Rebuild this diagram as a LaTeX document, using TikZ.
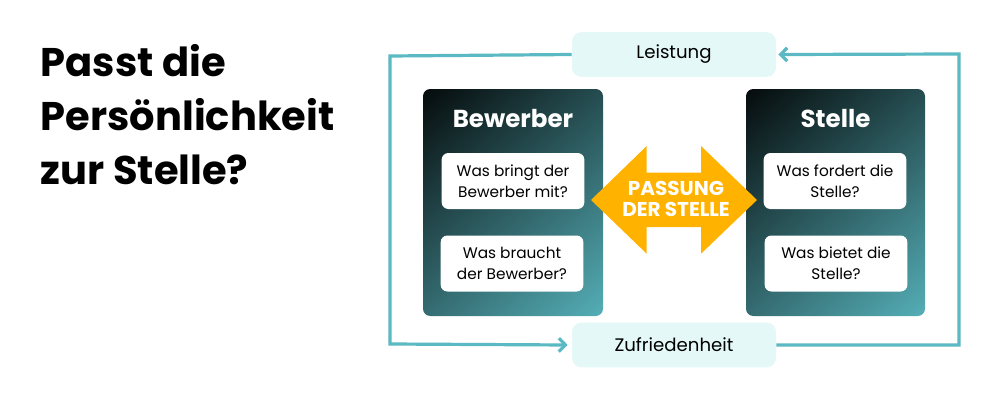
\documentclass[tikz,border=0pt]{standalone}
\usepackage{fontspec}
\setmainfont{Poppins}
\usetikzlibrary{arrows.meta}
\definecolor{tealline}{HTML}{5AB9C2}
\definecolor{tealpale}{HTML}{E3F8F7}
\definecolor{tealdark}{HTML}{5AB9C2}
\definecolor{amber}{HTML}{FFB200}
\pgfdeclarehorizontalshading{cardfade}{100bp}{color(0bp)=(black); color(10bp)=(black); color(90bp)=(tealdark); color(100bp)=(tealdark)}
\tikzset{
	card/.style={shading=cardfade,shading angle=-50,rounded corners=5.5pt},
	question/.style={fill=white,rounded corners=5pt,anchor=center,align=center,minimum width=107pt,minimum height=42pt,inner sep=0pt,font=\fontsize{11.5pt}{15.9pt}\selectfont},
	pill/.style={fill=tealpale,rounded corners=7pt,minimum width=153pt,minimum height=33.5pt,inner sep=0pt,font=\fontsize{13.6pt}{15pt}\selectfont},
	title/.style={text=white,font=\fontsize{18.4pt}{20pt}\selectfont\bfseries,inner sep=0pt},
	loopline/.style={draw=tealline,line width=2.4pt,-{Straight Barb[length=5pt,width=10pt,line width=2.4pt]}}
}
\begin{document}
\begin{tikzpicture}[x=0.75pt,y=-0.75pt]
	\useasboundingbox (0,0) rectangle (1000,400);

	\node[anchor=north west,inner sep=0pt,align=left,font=\fontsize{30pt}{40.5pt}\selectfont\bfseries] (heading) at (40.5,44.5) {Passt die\\Persönlichkeit\\zur Stelle?};

	\node[pill] (leistung) at (674,54.5) {Leistung};
	\node[pill] (zufriedenheit) at (674,345) {Zufriedenheit};

	\path[card] (423,89) rectangle (603,316);
	\path[card] (746,89) rectangle (925,316);

	\node[title] (bewerber) at (513,119) {Bewerber};
	\node[title] (stelle) at (835.5,119) {Stelle};

	\node[question] (bringt) at (513,181) {Was bringt der\\Bewerber mit?};
	\node[question] (braucht) at (512,263.5) {Was braucht\\der Bewerber?};
	\node[question] (fordert) at (835,181) {Was fordert die\\Stelle?};
	\node[question] (bietet) at (836,263.5) {Was bietet die\\Stelle?};

	\fill[amber] (591,200) -- (646.7,146) -- (646.7,172.7) -- (701,172.7) -- (701,146) -- (757,200)
	-- (701,253.7) -- (701,227) -- (646.7,227) -- (646.7,253.7) -- cycle;
	\node[align=center,text=white,inner sep=0pt,font=\fontsize{15pt}{16pt}\selectfont\bfseries] (passung) at (676,199) {PASSUNG\\DER STELLE};

	\draw[loopline] (leistung.west) -- (390,56) -- (390,344) -- ([xshift=-3pt]zufriedenheit.west);
	\draw[loopline] (zufriedenheit.east) -- (959,345) -- (959,54) -- ([xshift=1.5pt]leistung.east);

\end{tikzpicture}
\end{document}
